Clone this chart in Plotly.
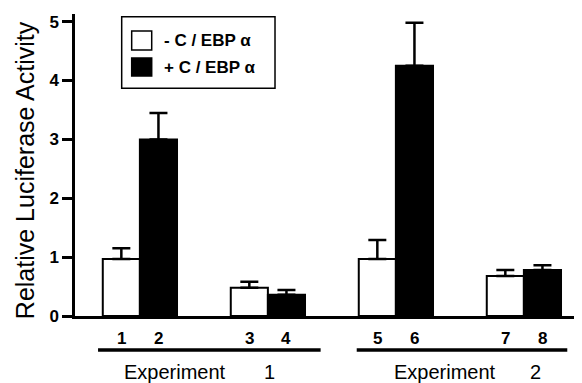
import plotly.graph_objects as go

# ---- data ----
groups = [0, 1, 2, 3]
series_names = ["- C / EBP α", "+ C / EBP α"]
minus_vals = [0.97, 0.48, 0.97, 0.68]
minus_errs = [0.18, 0.10, 0.32, 0.10]
plus_vals = [3.00, 0.36, 4.25, 0.78]
plus_errs = [0.45, 0.08, 0.73, 0.08]
lane_labels = ["1", "2", "3", "4", "5", "6", "7", "8"]
experiment_labels = ["Experiment", "Experiment"]
experiment_numbers = ["1", "2"]
y_ticks = [0, 1, 2, 3, 4, 5]
y_title = "Relative Luciferase Activity"

FONT = "Liberation Sans, Arial, sans-serif"
BW = 0.29  # bar width in x units (half of group width)

fig = go.Figure()
fig.add_trace(go.Bar(
    x=groups, y=minus_vals, name=series_names[0], showlegend=False,
    marker=dict(color="white", line=dict(color="black", width=2)),
    error_y=dict(type="data", array=minus_errs, arrayminus=[0] * len(groups),
                 symmetric=False, color="black", thickness=2.5, width=9),
))
fig.add_trace(go.Bar(
    x=groups, y=plus_vals, name=series_names[1], showlegend=False,
    marker=dict(color="black", line=dict(color="black", width=2)),
    error_y=dict(type="data", array=plus_errs, arrayminus=[0] * len(groups),
                 symmetric=False, color="black", thickness=2.5, width=9),
))

annotations = []
# lane numbers under bars
for i, lab in enumerate(lane_labels):
    g = groups[i // 2]
    off = -BW / 2 if i % 2 == 0 else BW / 2
    annotations.append(dict(x=g + off, y=-0.073, xref="x", yref="paper",
                            text=lab, showarrow=False, xanchor="center", yanchor="middle",
                            font=dict(family=FONT, size=17, color="black", weight="bold")))

# experiment labels
exp_text_x = [0.274, 2.384]
exp_num_x = [1.016, 3.087]
for k in range(2):
    annotations.append(dict(x=exp_text_x[k], y=-0.187, xref="x", yref="paper",
                            text=experiment_labels[k], showarrow=False,
                            xanchor="center", yanchor="middle",
                            font=dict(family=FONT, size=20, color="black")))
    annotations.append(dict(x=exp_num_x[k], y=-0.187, xref="x", yref="paper",
                            text=experiment_numbers[k], showarrow=False,
                            xanchor="center", yanchor="middle",
                            font=dict(family=FONT, size=20, color="black")))

# y axis title
annotations.append(dict(x=-0.0986, y=0.483, xref="paper", yref="paper",
                        text=y_title, textangle=-90, showarrow=False,
                        xanchor="center", yanchor="middle",
                        font=dict(family=FONT, size=25, color="black")))

# legend text
legend_y = [0.912, 0.8245]
for k in range(2):
    annotations.append(dict(x=0.171, y=legend_y[k], xref="paper", yref="paper",
                            text=series_names[k], showarrow=False,
                            xanchor="left", yanchor="middle",
                            font=dict(family=FONT, size=17, color="black", weight="bold")))

shapes = [
    # underline bars for experiments
    dict(type="line", xref="x", yref="paper", x0=-0.327, x1=1.412, y0=-0.1126, y1=-0.1126,
         line=dict(color="black", width=3.5)),
    dict(type="line", xref="x", yref="paper", x0=1.694, x1=3.339, y0=-0.1126, y1=-0.1126,
         line=dict(color="black", width=3.5)),
    # legend box
    dict(type="rect", xref="paper", yref="paper", x0=0.0921, x1=0.3945, y0=0.754, y1=0.991,
         line=dict(color="black", width=1.5), fillcolor="white"),
    # legend swatches
    dict(type="rect", xref="paper", yref="paper", x0=0.1118, x1=0.1513, y0=0.8808, y1=0.9437,
         line=dict(color="black", width=1.5), fillcolor="white"),
    dict(type="rect", xref="paper", yref="paper", x0=0.1118, x1=0.1513, y0=0.7947, y1=0.8543,
         line=dict(color="black", width=1.5), fillcolor="black"),
]

# the page body has an 8px default margin, so the figure is sized to fill the rest
fig.update_layout(
    width=574, height=375,
    margin=dict(l=67, r=0, t=6, b=67),
    paper_bgcolor="white", plot_bgcolor="white",
    barmode="group", bargap=0.42, bargroupgap=0,
    showlegend=False,
    annotations=annotations, shapes=shapes,
    xaxis=dict(range=[-0.507, 3.454], showticklabels=False, ticks="",
               showgrid=False, zeroline=False, showline=True,
               linecolor="black", linewidth=3),
    yaxis=dict(range=[0, 5.13], tickvals=y_ticks, ticks="outside", ticklen=10,
               tickwidth=2.5, tickcolor="black", showgrid=False, zeroline=False,
               showline=True, linecolor="black", linewidth=2.5,
               tickfont=dict(family=FONT, size=17, color="black", weight="bold")),
)

fig.write_html("out.html")
